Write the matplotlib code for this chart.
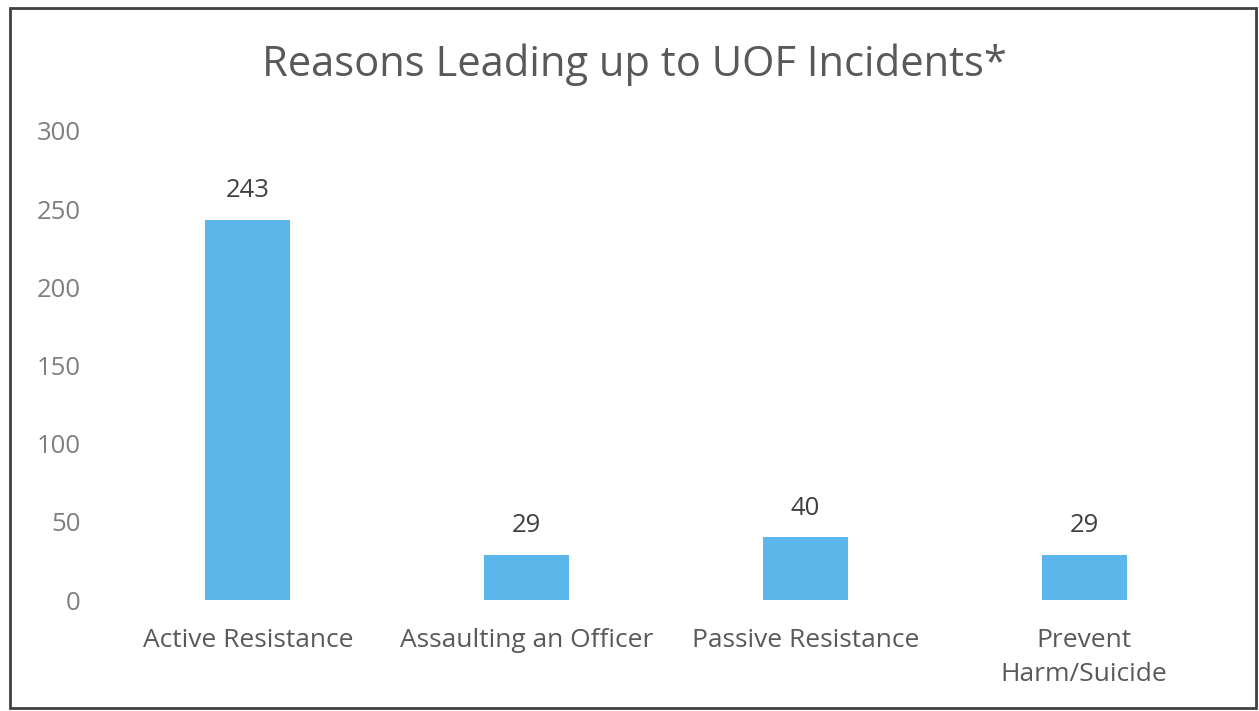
import matplotlib.pyplot as plt
from matplotlib.patches import Rectangle

# Données du graphique
categories = ["Active Resistance", "Assaulting an Officer", "Passive Resistance", "Prevent\nHarm/Suicide"]
counts = [243, 29, 40, 29]
y_ticks = [0, 50, 100, 150, 200, 250, 300]

plt.rcParams["font.family"] = ["Open Sans", "DejaVu Sans"]

fig = plt.figure(figsize=(12.59, 7.11), dpi=100)
ax = fig.add_axes([108.5 / 1259, 1 - 600 / 711, 1115 / 1259, 469 / 711])

x = range(len(categories))
bars = ax.bar(x, counts, width=0.305, color="#5cb6ea")

for rect, val in zip(bars, counts):
    ax.annotate(str(val), (rect.get_x() + rect.get_width() / 2, rect.get_height()),
                xytext=(0, 12), textcoords="offset points", ha="center", va="bottom",
                fontsize=18.5, color="#404040")

ax.set_xlim(-0.5, 3.5)
ax.set_ylim(0, 300)
ax.set_yticks(y_ticks)
ax.set_xticks(list(x))
ax.set_xticklabels(categories, fontsize=19, color="#595959", linespacing=1.5)
ax.tick_params(axis="y", labelsize=18.5, labelcolor="#7f7f7f", length=0, pad=20)
ax.tick_params(axis="x", length=0, pad=20)
for s in ax.spines.values():
    s.set_visible(False)

fig.text(634 / 1259, 1 - 65 / 711, "Reasons Leading up to UOF Incidents*", ha="center", va="center",
         fontsize=30, color="#595959")

# Cadre autour du graphique
fig.patches.append(Rectangle((10 / 1259, 3 / 711), 1246 / 1259, 700 / 711, transform=fig.transFigure,
                             fill=False, edgecolor="#404040", linewidth=2))

fig.savefig("out.png", dpi=100)
